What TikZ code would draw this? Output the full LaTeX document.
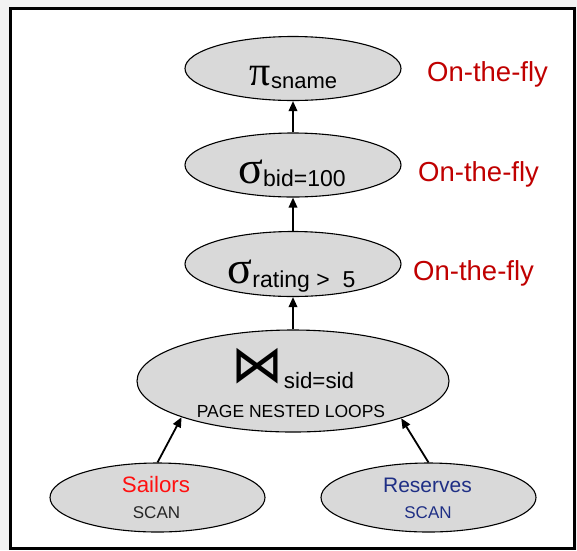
\documentclass[tikz,border=0pt]{standalone}
\usepackage{fontspec}
\setmainfont{Liberation Sans}
\newfontfamily\grk{Liberation Serif}
\newfontfamily\symf{DejaVu Sans}
\usetikzlibrary{shapes.geometric,arrows.meta}

\definecolor{opfill}{HTML}{D9D9D9}
\definecolor{flyred}{HTML}{C00000}
\definecolor{sailred}{HTML}{FF1010}
\definecolor{resblue}{HTML}{1F2F85}
\definecolor{pagebg}{HTML}{F2F2F2}

\newcommand{\fs}[1]{\fontsize{#1}{#1}\selectfont}

\tikzset{
  opnode/.style={ellipse, draw=black, line width=1.1pt, fill=opfill,
                 inner sep=0pt, minimum width=216pt, minimum height=64pt},
  txt/.style={inner sep=0pt, anchor=base},
  flow/.style={line width=1.8pt, -{Triangle[length=10pt,width=8.5pt]}},
  flylabel/.style={txt, anchor=base west, text=flyred, font=\fs{27.5}},
}

\begin{document}
\begin{tikzpicture}[x=1pt,y=-1pt]
  % page and frame
  \fill[pagebg] (0,0) rectangle (577,550);
  \useasboundingbox (0,0) rectangle (577,550);
  \draw[line width=3pt, fill=white] (10,8.5) rectangle (574,548);

  % operator ellipses
  \node[opnode] (proj) at (293,68.5) {};
  \node[opnode] (selbid) at (293,165) {};
  \node[opnode, minimum height=65pt] (selrat) at (293,264) {};
  \node[opnode, minimum width=312pt, minimum height=102pt] (join) at (293,381) {};
  \node[opnode, minimum width=215pt, minimum height=69pt] (sail) at (157.5,497.5) {};
  \node[opnode, minimum width=215pt, minimum height=69pt] (resv) at (428.5,497.5) {};

  % operator texts
  \node[txt] (projtxt) at (293.5,85)
    {{\grk\fs{42}π}\raisebox{-3pt}{\fs{22}sname}};
  \node[txt] (selbidtxt) at (292,183)
    {{\grk\fs{46}σ}\raisebox{-3.7pt}{\fs{23}bid=100}};
  \node[txt] (selrattxt) at (291.5,283)
    {{\grk\fs{46}σ}\raisebox{-4pt}{\fs{23}rating >\ \ 5}};
  \node[txt] (jointxt) at (293,382)
    {{\symf\fs{52}⋈}\raisebox{-6pt}{\fs{22.3}sid=sid}};
  \node[txt, font=\fs{17.5}] (jointype) at (291,417) {PAGE NESTED LOOPS};
  \node[txt, font=\fs{22.3}, text=sailred] (sailname) at (156,492) {Sailors};
  \node[txt, font=\fs{17}, text=black!85] (sailscan) at (156.5,518) {SCAN};
  \node[txt, font=\fs{21}, text=resblue] (resvname) at (427.5,492) {Reserves};
  \node[txt, font=\fs{17}, text=resblue] (resvscan) at (428,518) {SCAN};

  % pipelining notes
  \node[flylabel] (fly1) at (427,81) {On-the-fly};
  \node[flylabel] (fly2) at (418,181) {On-the-fly};
  \node[flylabel] (fly3) at (413,280) {On-the-fly};

  % data flow
  \draw[flow] (selbid) -- (proj);
  \draw[flow] (selrat) -- (selbid);
  \draw[flow] (join) -- (selrat);
  \draw[flow] (sail.north) -- (join.198.6);
  \draw[flow] (resv.north) -- (join.341.6);
\end{tikzpicture}
\end{document}
